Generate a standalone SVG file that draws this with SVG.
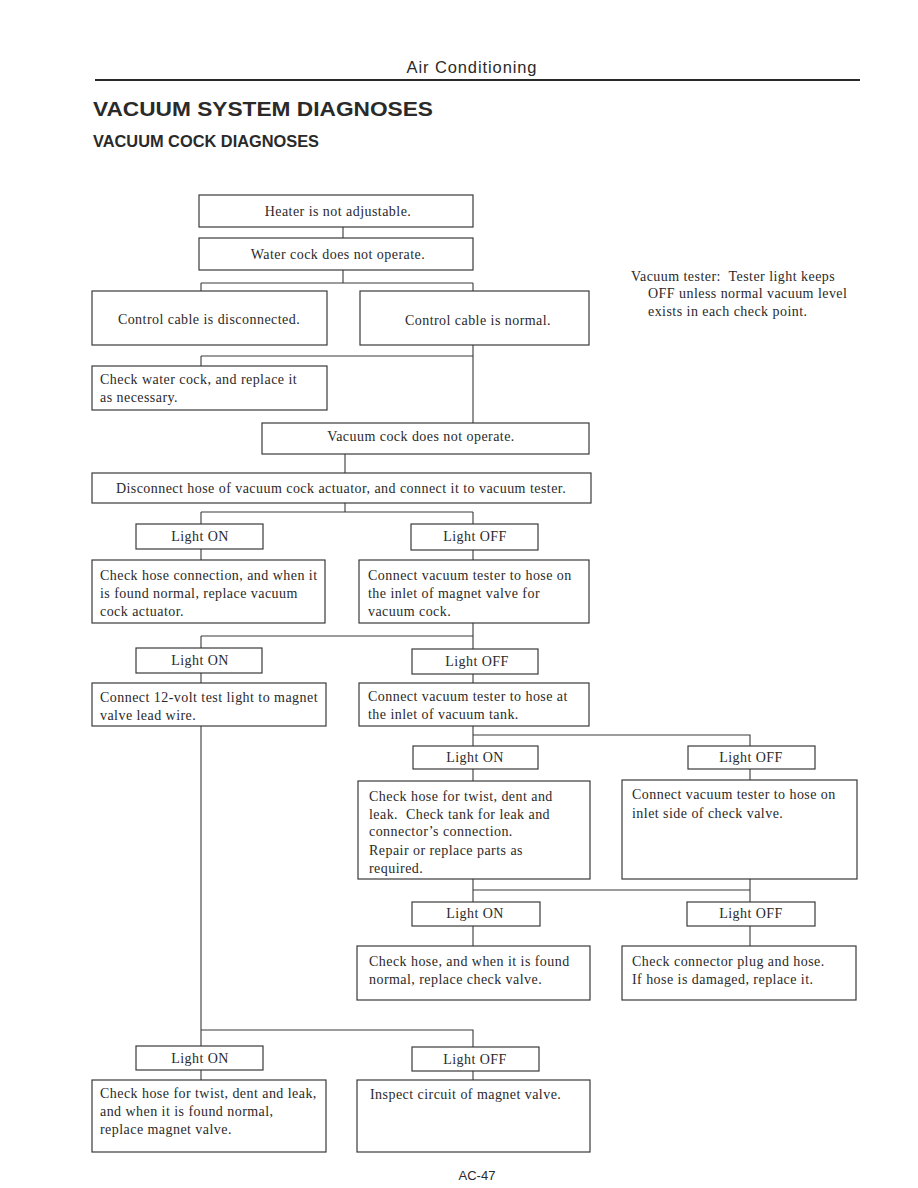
<svg xmlns="http://www.w3.org/2000/svg" width="918" height="1188" viewBox="0 0 918 1188">
<style>
.bx{fill:#fff;stroke:#3a3a3a;stroke-width:1.2}
.cn{fill:none;stroke:#3a3a3a;stroke-width:1.1}
.t{font-family:"Liberation Serif","Times New Roman",serif;font-size:14px;letter-spacing:0.45px;fill:#2a2a2a}
.c{text-anchor:middle}
.p{white-space:pre}
.s{font-family:"Liberation Sans",Arial,sans-serif;fill:#2a2a2a}
</style>
<rect width="918" height="1188" fill="#fff"/>
<g id="header">
<text class="s" x="472" y="73" font-size="16.5" text-anchor="middle" letter-spacing="0.9">Air Conditioning</text>
<line x1="95" y1="80" x2="860" y2="80" stroke="#2a2a2a" stroke-width="2"/>
<text class="s" x="93" y="116" font-size="21" font-weight="bold" textLength="340" lengthAdjust="spacingAndGlyphs">VACUUM SYSTEM DIAGNOSES</text>
<text class="s" x="93" y="147" font-size="16" font-weight="bold" textLength="226" lengthAdjust="spacingAndGlyphs">VACUUM COCK DIAGNOSES</text>
</g>
<g id="connectors">
<path class="cn" d="M343 227V238M343 270V283M201 283H473M201 283V291M473 283V291"/>
<path class="cn" d="M473 345V423M201 356H473M201 356V366"/>
<path class="cn" d="M345 454V473M345 503V512M201 512H473M201 512V524M473 512V524"/>
<path class="cn" d="M201 549V560M473 550V560"/>
<path class="cn" d="M473 623V636M201 636H473M201 636V648M473 636V649M201 673V683M473 674V683"/>
<path class="cn" d="M473 726V735H750V746M473 735V746M473 769V781M750 769V780"/>
<path class="cn" d="M473 879V902M473 890H750M750 879V902M473 926V946M750 926V946"/>
<path class="cn" d="M201 726V1046M201 1030H473V1047M201 1070V1080M473 1071V1080"/>
</g>
<g id="n-heater"><rect class="bx" x="199" y="195" width="274" height="32"/><text class="t c" x="338" y="216">Heater is not adjustable.</text></g>
<g id="n-watercock"><rect class="bx" x="199" y="238" width="274" height="32"/><text class="t c" x="338" y="259">Water cock does not operate.</text></g>
<g id="n-cable-disc"><rect class="bx" x="92" y="291" width="235" height="54"/><text class="t c" x="209" y="324">Control cable is disconnected.</text></g>
<g id="n-cable-norm"><rect class="bx" x="360" y="291" width="229" height="54"/><text class="t c" x="478" y="325">Control cable is normal.</text></g>
<g id="n-check-water"><rect class="bx" x="92" y="366" width="235" height="44"/><text class="t" x="100" y="384">Check water cock, and replace it</text><text class="t" x="100" y="402">as necessary.</text></g>
<g id="n-vaccock"><rect class="bx" x="262" y="423" width="327" height="31"/><text class="t c" x="421" y="441">Vacuum cock does not operate.</text></g>
<g id="n-disconnect"><rect class="bx" x="92" y="473" width="499" height="30"/><text class="t c" x="341" y="493">Disconnect hose of vacuum cock actuator, and connect it to vacuum tester.</text></g>
<g id="n-on1"><rect class="bx" x="136" y="524" width="127" height="25"/><text class="t c" x="200" y="541">Light ON</text></g>
<g id="n-off1"><rect class="bx" x="411" y="524" width="127" height="26"/><text class="t c" x="475" y="541">Light OFF</text></g>
<g id="n-check-hose-conn"><rect class="bx" x="92" y="560" width="233" height="63"/><text class="t" x="100" y="580">Check hose connection, and when it</text><text class="t" x="100" y="598">is found normal, replace vacuum</text><text class="t" x="100" y="616">cock actuator.</text></g>
<g id="n-connect-magnet"><rect class="bx" x="359" y="560" width="230" height="63"/><text class="t" x="368" y="580">Connect vacuum tester to hose on</text><text class="t" x="368" y="598">the inlet of magnet valve for</text><text class="t" x="368" y="616">vacuum cock.</text></g>
<g id="n-on2"><rect class="bx" x="136" y="648" width="126" height="25"/><text class="t c" x="200" y="665">Light ON</text></g>
<g id="n-off2"><rect class="bx" x="412" y="649" width="126" height="25"/><text class="t c" x="477" y="666">Light OFF</text></g>
<g id="n-12volt"><rect class="bx" x="92" y="683" width="234" height="43"/><text class="t" x="100" y="702">Connect 12-volt test light to magnet</text><text class="t" x="100" y="720">valve lead wire.</text></g>
<g id="n-connect-tank"><rect class="bx" x="359" y="683" width="230" height="43"/><text class="t" x="368" y="701">Connect vacuum tester to hose at</text><text class="t" x="368" y="719">the inlet of vacuum tank.</text></g>
<g id="n-on3"><rect class="bx" x="413" y="746" width="125" height="23"/><text class="t c" x="475" y="762">Light ON</text></g>
<g id="n-off3"><rect class="bx" x="688" y="746" width="127" height="23"/><text class="t c" x="751" y="762">Light OFF</text></g>
<g id="n-check-twist"><rect class="bx" x="358" y="781" width="232" height="98"/><text class="t" x="369" y="801">Check hose for twist, dent and</text><text class="t p" x="369" y="819">leak.  Check tank for leak and</text><text class="t" x="369" y="836">connector’s connection.</text><text class="t" x="369" y="855">Repair or replace parts as</text><text class="t" x="369" y="873">required.</text></g>
<g id="n-connect-check"><rect class="bx" x="622" y="780" width="235" height="99"/><text class="t" x="632" y="799">Connect vacuum tester to hose on</text><text class="t" x="632" y="818">inlet side of check valve.</text></g>
<g id="n-on4"><rect class="bx" x="412" y="902" width="128" height="24"/><text class="t c" x="475" y="918">Light ON</text></g>
<g id="n-off4"><rect class="bx" x="687" y="902" width="128" height="24"/><text class="t c" x="751" y="918">Light OFF</text></g>
<g id="n-check-valve"><rect class="bx" x="357" y="946" width="233" height="54"/><text class="t" x="369" y="966">Check hose, and when it is found</text><text class="t" x="369" y="984">normal, replace check valve.</text></g>
<g id="n-check-plug"><rect class="bx" x="622" y="946" width="234" height="54"/><text class="t" x="632" y="966">Check connector plug and hose.</text><text class="t" x="632" y="984">If hose is damaged, replace it.</text></g>
<g id="n-on5"><rect class="bx" x="136" y="1046" width="127" height="24"/><text class="t c" x="200" y="1063">Light ON</text></g>
<g id="n-off5"><rect class="bx" x="412" y="1047" width="127" height="24"/><text class="t c" x="475" y="1064">Light OFF</text></g>
<g id="n-replace-magnet"><rect class="bx" x="92" y="1080" width="234" height="72"/><text class="t" x="100" y="1098">Check hose for twist, dent and leak,</text><text class="t" x="100" y="1116">and when it is found normal,</text><text class="t" x="100" y="1134">replace magnet valve.</text></g>
<g id="n-inspect"><rect class="bx" x="357" y="1080" width="233" height="72"/><text class="t" x="370" y="1099">Inspect circuit of magnet valve.</text></g>
<g id="note"><text class="t p" x="631" y="281">Vacuum tester:  Tester light keeps</text><text class="t" x="648" y="298">OFF unless normal vacuum level</text><text class="t" x="648" y="316">exists in each check point.</text></g>
<g id="footer"><text class="s" x="477" y="1180" font-size="13" text-anchor="middle">AC-47</text></g>
</svg>
